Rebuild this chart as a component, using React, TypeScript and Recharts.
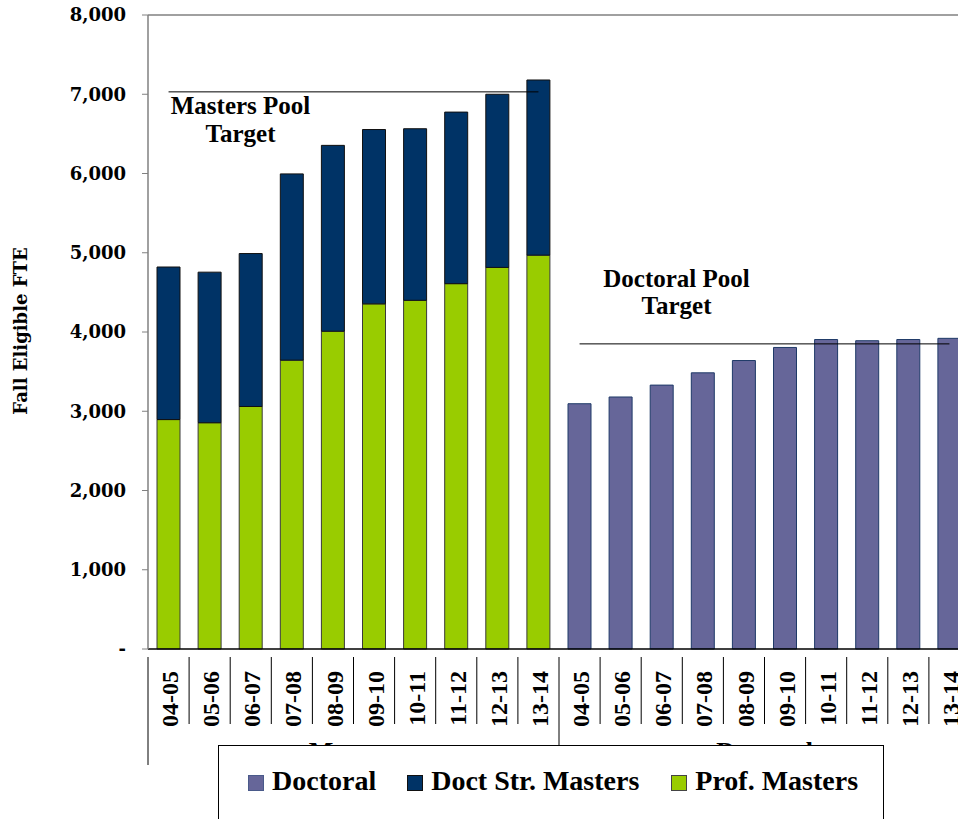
import { Bar, BarChart, Legend, ReferenceLine, XAxis, YAxis } from 'recharts'

const years = ['04-05', '05-06', '06-07', '07-08', '08-09', '09-10', '10-11', '11-12', '12-13', '13-14']
const groups = ['Masters', 'Doctoral']

const profMasters = [2895, 2855, 3060, 3645, 4010, 4355, 4400, 4610, 4815, 4970]
const doctStrMasters = [1925, 1900, 1930, 2350, 2345, 2200, 2165, 2165, 2185, 2210]
const doctoral = [3095, 3180, 3330, 3485, 3640, 3805, 3905, 3890, 3905, 3920]

const mastersTarget = 7030
const doctoralTarget = 3850
const yTicks = [0, 1000, 2000, 3000, 4000, 5000, 6000, 7000, 8000]

const GREEN = '#99cc00'
const NAVY = '#003366'
const PURPLE = '#666699'

const serif = '"Liberation Serif", "Times New Roman", serif'
const slab = '"DejaVu Serif", serif'

const data = [
	...years.map((year, i) => ({
		key: `M|${year}`,
		year,
		group: groups[0],
		prof: profMasters[i],
		doctStr: doctStrMasters[i],
		doctoral: null as number | null,
	})),
	...years.map((year, i) => ({
		key: `D|${year}`,
		year,
		group: groups[1],
		prof: null as number | null,
		doctStr: null as number | null,
		doctoral: doctoral[i],
	})),
]

const legendItems = [
	{ label: 'Doctoral', color: PURPLE, border: '#4a5a8a', gap: 31 },
	{ label: 'Doct Str. Masters', color: NAVY, border: '#111', gap: 32 },
	{ label: 'Prof. Masters', color: GREEN, border: '#444', gap: 0 },
]

function ValueTick(props: any) {
	const { x, y, payload } = props
	const v = payload.value as number
	return (
		<text
			x={x}
			y={y}
			dy="0.36em"
			textAnchor="end"
			fontFamily={slab}
			fontWeight="bold"
			fontSize={18}
			fill="#000"
		>
			{v === 0 ? '-' : v.toLocaleString('en-US')}
		</text>
	)
}

function CategoryTick(props: any) {
	const { x, y, payload, index } = props
	const band = props.width && props.width > 0 ? props.width / data.length : 41.1
	const half = band / 2
	const left = x - half
	const row = data[index] ?? data.find((d) => d.key === payload.value)
	const lineEnd = index === 0 ? 765 : index === 10 ? 745 : 724
	return (
		<g>
			<line x1={left} x2={left} y1={y} y2={lineEnd} stroke="#000" strokeWidth={1} />
			{index === data.length - 1 && (
				<line x1={x + half} x2={x + half} y1={y} y2={724} stroke="#000" strokeWidth={1} />
			)}
			<text
				x={x + 1}
				y={y + 14}
				transform={`rotate(-90 ${x + 1} ${y + 14})`}
				textAnchor="end"
				dy="0.36em"
				fontFamily={serif}
				fontWeight="bold"
				fontSize={24}
				fill="#000"
			>
				{row ? row.year : ''}
			</text>
			{(index === 0 || index === 10) && (
				<text
					x={left + band * 5}
					y={760}
					textAnchor="middle"
					fontFamily={serif}
					fontWeight="bold"
					fontSize={26}
					fill="#000"
				>
					{row ? row.group : ''}
				</text>
			)}
		</g>
	)
}

function TargetLabel(lines: string[], dx: number, dys: number[]) {
	return (props: any) => {
		const vb = props.viewBox || {}
		return (
			<g>
				{lines.map((line, i) => (
					<text
						key={line}
						x={vb.x + dx}
						y={vb.y + dys[i]}
						textAnchor="middle"
						fontFamily={serif}
						fontWeight="bold"
						fontSize={25}
						fill="#000"
					>
						{line}
					</text>
				))}
			</g>
		)
	}
}

function LegendBox() {
	return (
		<div
			style={{
				boxSizing: 'border-box',
				width: 666,
				height: 80,
				background: '#fff',
				border: '1.5px solid #000',
				paddingLeft: 29,
				paddingTop: 19,
				fontFamily: serif,
				fontWeight: 'bold',
				fontSize: 28,
				lineHeight: '32px',
				color: '#000',
				whiteSpace: 'nowrap',
				display: 'flex',
				alignItems: 'flex-start',
			}}
		>
			{legendItems.map((item) => (
				<span
					key={item.label}
					style={{ display: 'inline-flex', alignItems: 'center', marginRight: item.gap }}
				>
					<span
						style={{
							display: 'inline-block',
							width: 14,
							height: 14,
							background: item.color,
							border: `1px solid ${item.border}`,
							marginRight: 8,
							marginTop: 3,
						}}
					/>
					{item.label}
				</span>
			))}
		</div>
	)
}

export default function App() {
	return (
		<div
			style={{
				position: 'absolute',
				left: 0,
				top: 0,
				width: 958,
				height: 819,
				overflow: 'hidden',
				background: '#fff',
			}}
		>
			<BarChart
				width={980}
				height={819}
				data={data}
				margin={{ top: 15, right: 10, left: 0, bottom: 70 }}
				barSize={23}
			>
				<XAxis
					dataKey="key"
					height={100}
					interval={0}
					axisLine={{ stroke: '#000', strokeWidth: 1.5 }}
					tickLine={false}
					tick={<CategoryTick />}
				/>
				<YAxis
					width={148}
					domain={[0, 8000]}
					ticks={yTicks}
					interval={0}
					axisLine={{ stroke: '#808080', strokeWidth: 1.5 }}
					tickLine={{ stroke: '#808080' }}
					tickSize={6}
					tickMargin={16}
					tick={<ValueTick />}
					label={{
						content: () => (
							<text
								x={21}
								y={331}
								transform="rotate(-90 21 331)"
								textAnchor="middle"
								dy="0.36em"
								fontFamily={slab}
								fontWeight="bold"
								fontSize={18}
								fill="#000"
							>
								Fall Eligible FTE
							</text>
						),
					}}
				/>
				<ReferenceLine y={8000} stroke="#808080" strokeWidth={1.5} />
				<Bar dataKey="prof" name="Prof. Masters" stackId="s" fill={GREEN} stroke="#3a3a3a" strokeWidth={1} isAnimationActive={false} />
				<Bar dataKey="doctStr" name="Doct Str. Masters" stackId="s" fill={NAVY} stroke="#111" strokeWidth={1} isAnimationActive={false} />
				<Bar dataKey="doctoral" name="Doctoral" stackId="s" fill={PURPLE} stroke="#1f3a68" strokeWidth={1} isAnimationActive={false} />
				<ReferenceLine
					segment={[
						{ x: `M|${years[0]}`, y: mastersTarget },
						{ x: `M|${years[9]}`, y: mastersTarget },
					]}
					stroke="#000"
					strokeWidth={1}
					label={{ content: TargetLabel(['Masters Pool', 'Target'], 72, [22, 50]) }}
				/>
				<ReferenceLine
					segment={[
						{ x: `D|${years[0]}`, y: doctoralTarget },
						{ x: `D|${years[9]}`, y: doctoralTarget },
					]}
					stroke="#000"
					strokeWidth={1}
					label={{ content: TargetLabel(['Doctoral Pool', 'Target'], 97, [-57, -30]) }}
				/>
				<Legend
					layout="horizontal"
					verticalAlign="middle"
					align="center"
					wrapperStyle={{ left: 218, top: 745, width: 666 }}
					content={() => <LegendBox />}
				/>
			</BarChart>
		</div>
	)
}
